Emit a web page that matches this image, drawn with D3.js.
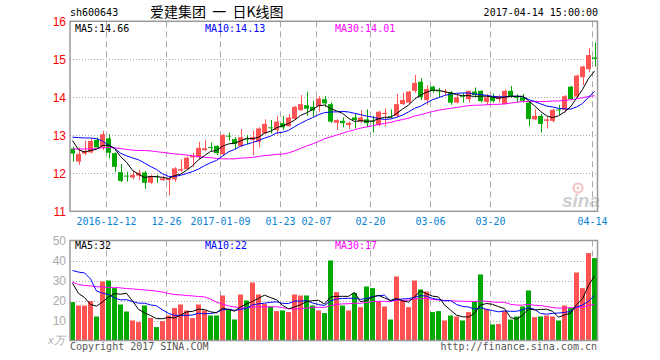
<!DOCTYPE html>
<html><head><meta charset="utf-8">
<script src="https://cdn.jsdelivr.net/npm/d3@7"></script>
<style>body{margin:0;background:#fff}svg{display:block}</style>
</head><body><svg id="c" width="660" height="360"></svg>
<script>
const dates = ["2016-12-02","2016-12-05","2016-12-06","2016-12-07","2016-12-08","2016-12-09","2016-12-12","2016-12-13","2016-12-14","2016-12-15","2016-12-16","2016-12-19","2016-12-20","2016-12-21","2016-12-22","2016-12-23","2016-12-26","2016-12-27","2016-12-28","2016-12-29","2016-12-30",
"2017-01-03","2017-01-04","2017-01-05","2017-01-06","2017-01-09","2017-01-10","2017-01-11","2017-01-12","2017-01-13","2017-01-16","2017-01-17","2017-01-18","2017-01-19","2017-01-20","2017-01-23","2017-01-24","2017-01-25","2017-01-26",
"2017-02-03","2017-02-06","2017-02-07","2017-02-08","2017-02-09","2017-02-10","2017-02-13","2017-02-14","2017-02-15","2017-02-16","2017-02-17","2017-02-20","2017-02-21","2017-02-22","2017-02-23","2017-02-24","2017-02-27","2017-02-28",
"2017-03-01","2017-03-02","2017-03-03","2017-03-06","2017-03-07","2017-03-08","2017-03-09","2017-03-10","2017-03-13","2017-03-14","2017-03-15","2017-03-16","2017-03-17","2017-03-20","2017-03-21","2017-03-22","2017-03-23","2017-03-24","2017-03-27","2017-03-28","2017-03-29","2017-03-30","2017-03-31",
"2017-04-05","2017-04-06","2017-04-07","2017-04-10","2017-04-11","2017-04-12","2017-04-13","2017-04-14"];
const opens = [12.65,12.31,12.52,12.55,12.88,12.68,12.92,12.53,12.03,11.94,11.89,11.94,12.02,11.75,11.92,11.82,11.82,11.84,12.07,12.11,12.42,12.42,12.61,12.69,12.72,12.50,12.99,12.90,12.72,12.91,12.88,12.83,13.05,13.21,13.14,13.32,13.24,13.43,13.66,13.79,13.75,13.77,13.95,13.82,13.33,13.38,13.27,13.47,13.36,13.42,13.38,13.27,13.56,13.50,13.51,13.82,13.86,14.17,14.41,13.93,14.28,14.18,14.15,14.14,13.86,14.04,13.95,14.15,14.17,13.88,14.02,13.95,13.82,14.17,14.01,14.00,13.86,13.42,13.51,13.38,13.38,13.68,13.67,14.28,14.02,14.53,14.74,15.05];
const highs = [12.70,12.68,12.86,12.92,12.95,13.12,13.03,12.55,12.24,12.04,12.07,12.10,12.06,11.96,11.96,11.93,11.87,12.16,12.37,12.44,12.54,12.83,12.88,12.81,12.74,13.03,13.07,12.95,13.16,13.01,13.12,13.21,13.42,13.40,13.51,13.51,13.56,13.77,14.06,14.15,13.91,14.03,14.03,13.86,13.42,13.47,13.36,13.56,13.66,13.68,13.51,13.65,13.71,13.68,14.09,14.12,14.17,14.59,14.50,14.32,14.30,14.25,14.22,14.17,14.06,14.11,14.17,14.26,14.18,14.09,14.10,14.06,14.21,14.30,14.08,14.09,13.90,13.68,13.56,13.49,13.70,13.80,14.06,14.30,14.60,14.83,15.29,15.44];
const lows = [12.31,12.22,12.48,12.53,12.66,12.61,12.39,12.04,11.77,11.78,11.84,11.82,11.59,11.72,11.75,11.80,11.42,11.78,12.04,12.09,12.17,12.38,12.59,12.59,12.48,12.47,12.86,12.63,12.68,12.77,12.48,12.68,13.03,13.05,13.03,13.14,13.23,13.40,13.65,13.51,13.49,13.62,13.75,13.33,13.14,13.21,13.16,13.18,13.33,13.21,13.07,13.24,13.24,13.45,13.47,13.80,13.82,14.12,13.93,13.80,14.12,14.00,14.06,13.80,13.84,13.86,13.86,13.99,13.86,13.80,13.86,13.86,13.82,13.99,13.86,13.86,13.24,13.40,13.07,13.18,13.34,13.54,13.60,13.93,14.00,14.32,14.66,14.81];
const closes = [12.52,12.51,12.59,12.85,12.68,13.03,12.54,12.17,11.80,11.92,11.96,12.02,11.75,11.93,11.90,11.87,11.87,12.13,12.11,12.41,12.46,12.67,12.66,12.68,12.53,13.01,12.98,12.77,12.95,12.90,12.95,13.18,13.30,13.20,13.36,13.21,13.47,13.75,13.82,13.70,13.65,13.97,13.84,13.36,13.40,13.32,13.33,13.40,13.47,13.32,13.36,13.62,13.59,13.48,13.82,13.93,14.15,14.38,14.00,14.22,14.17,14.16,14.17,13.86,14.00,14.02,14.17,14.06,13.90,14.00,13.90,14.03,14.17,14.03,14.00,13.91,13.43,13.51,13.30,13.42,13.67,13.66,14.03,13.95,14.57,14.81,15.11,15.01];
const volumes = [19.2,17.5,17.5,19.7,12,29.5,30,26.2,18,14.5,10,9.2,17.5,11.3,6.7,9.7,12.5,16.2,18,15,11.2,18,15,12.5,12.5,22.5,15.3,10.5,23,20,29,23,18.3,17,14.7,15,14.2,23,22.5,22.5,17.5,15,13.7,40,24.2,17.5,15,23.7,16.7,27,26.2,19.5,17,10.5,32,20,16.7,30,25.5,24.5,14.2,14.7,10,12.5,12,10,14.2,19.5,33,15.8,8,8.3,14.7,10.5,12,17,25,11.7,12,12.5,12,10,17.5,16.2,34,26.2,43.7,41.2];
const ma5Head = [12.86,12.62,12.56,12.60];
const ma10Head = [12.95,12.94,12.93,12.93,12.91,12.85,12.74,12.66,12.53];
const ma30Head = [12.64,12.64,12.64,12.64,12.65,12.67,12.68,12.67,12.65,12.63,12.61,12.60,12.60,12.59,12.57,12.55,12.53,12.51,12.50,12.48,12.46,12.44,12.42,12.41,12.39,12.38,12.38,12.38,12.40];
const vma5Head = [28.7,23.5,21.5,18];
const vma10Head = [35,34.2,33.8,30.8,24.7,23.7,23,21.3,20.3];
const vma30Head = [29.2,28,27.5,27.3,26.9,26.8,26.5,26.6,26.3,26,25.8,25.5,25.3,25,24.7,24.2,23.5,23,22.8,22.5,22.3,22,21.8,20.7,19.2,18.2,17.3,16.8,16.3];
const labelDates = ["2016-12-12","2016-12-26","2017-01-09","2017-01-23","2017-02-07","2017-02-20","2017-03-06","2017-03-20","2017-04-14"];
const labelTexts = ["2016-12-12","12-26","2017-01-09","01-23","02-07","02-20","03-06","03-20","04-14"];
const priceTicks = [11,12,13,14,15,16];
const volTicks = [10,20,30,40,50];
const priceLegend = [["MA5",14.66],["MA10",14.13],["MA30",14.01]];
const volLegend = [["MA5",32],["MA10",22],["MA30",17]];

function movingAvg(vals, n, head) {
  return vals.map((v, i) => i < n - 1 ? head[i] : d3.mean(vals.slice(i - n + 1, i + 1)));
}

const svg = d3.select("#c");
const L = 70, R = 597.5;
const pTop = 21.3, pBot = 211.3, vTop = 240.5, vBot = 340.5;
const x = d3.scaleBand().domain(dates).range([69.5, 597.5]).paddingInner(1/6).paddingOuter(1/12);
const bw = x.bandwidth();
const cx = d => x(d) + bw / 2;
const y = d3.scaleLinear().domain([11, 16]).range([pBot, pTop]);
const yv = d3.scaleLinear().domain([0, 50]).range([vBot, vTop]);
const RED = "#ff5252", GREEN = "#00a800", GRID = "#aaaaaa";
const MONO = "'DejaVu Sans Mono', monospace";

// title row
svg.append("text").attr("x", 70).attr("y", 16).attr("font-family", MONO).attr("font-size", 10).attr("fill", "#000").text("sh600643");
svg.append("text").attr("x", 150).attr("y", 17).attr("font-family", "'Noto Sans CJK SC', sans-serif").attr("font-size", 14)
  .attr("fill", "#000").style("white-space", "pre").text("爱建集团  一  日K线图");
svg.append("text").attr("x", 598).attr("y", 16).attr("text-anchor", "end").attr("font-family", MONO).attr("font-size", 10).attr("fill", "#000").text("2017-04-14 15:00:00");

// grids
const g = svg.append("g");
[12,13,14,15].forEach(t => g.append("line").attr("x1", L).attr("x2", R).attr("y1", Math.round(y(t)) + 0.5).attr("y2", Math.round(y(t)) + 0.5)
  .attr("stroke", GRID).attr("stroke-dasharray", "1,2"));
[10,20,30,40].forEach(t => g.append("line").attr("x1", L).attr("x2", R).attr("y1", Math.round(yv(t)) + 0.5).attr("y2", Math.round(yv(t)) + 0.5)
  .attr("stroke", GRID).attr("stroke-dasharray", "1,2"));
labelDates.forEach(d => {
  const xx = Math.round(x(d)) + 0.5;
  g.append("line").attr("x1", xx).attr("x2", xx).attr("y1", pTop).attr("y2", pBot).attr("stroke", GRID).attr("stroke-dasharray", "6,4");
  g.append("line").attr("x1", xx).attr("x2", xx).attr("y1", vTop).attr("y2", vBot).attr("stroke", GRID).attr("stroke-dasharray", "6,4");
});

// watermark
const wm = svg.append("g").attr("opacity", 0.6);
wm.append("circle").attr("cx", 578).attr("cy", 188).attr("r", 4.5).attr("fill", "none").attr("stroke", "#f29b9b").attr("stroke-width", 2);
wm.append("circle").attr("cx", 578).attr("cy", 188).attr("r", 1.5).attr("fill", "#f29b9b");
wm.append("text").attr("x", 562).attr("y", 207).attr("font-family", "'Liberation Sans', sans-serif").attr("font-style", "italic").attr("font-weight", "bold")
  .attr("font-size", 19).attr("fill", "#b0b0b0").text("sina");

// candles
const idx = d3.range(dates.length);
const cg = svg.append("g");
idx.forEach(i => {
  const up = closes[i] >= opens[i];
  const col = up ? RED : GREEN;
  const xc = Math.round(cx(dates[i])) + 0.5;
  cg.append("line").attr("x1", xc).attr("x2", xc).attr("y1", y(highs[i])).attr("y2", y(lows[i])).attr("stroke", col);
  const top = y(Math.max(opens[i], closes[i])), bot = y(Math.min(opens[i], closes[i]));
  cg.append("rect").attr("x", x(dates[i])).attr("width", bw).attr("y", top).attr("height", Math.max(1, bot - top)).attr("fill", col);
});

// price MAs
const line = d3.line().x((d, i) => cx(dates[i])).y(d => y(d));
[[movingAvg(closes, 30, ma30Head), "#ff00ff"], [movingAvg(closes, 10, ma10Head), "#0000ff"], [movingAvg(closes, 5, ma5Head), "#000"]]
  .forEach(([arr, col]) => svg.append("path").attr("d", line(arr)).attr("fill", "none").attr("stroke", col).attr("stroke-width", 1));

// volume bars
const vg = svg.append("g");
idx.forEach(i => {
  const col = closes[i] >= opens[i] ? RED : GREEN;
  vg.append("rect").attr("x", x(dates[i])).attr("width", bw).attr("y", yv(volumes[i])).attr("height", vBot - yv(volumes[i])).attr("fill", col);
});
const vline = d3.line().x((d, i) => cx(dates[i])).y(d => yv(d));
[[movingAvg(volumes, 30, vma30Head), "#ff00ff"], [movingAvg(volumes, 10, vma10Head), "#0000ff"], [movingAvg(volumes, 5, vma5Head), "#000"]]
  .forEach(([arr, col]) => svg.append("path").attr("d", vline(arr)).attr("fill", "none").attr("stroke", col).attr("stroke-width", 1));

// frames
[[pTop, pBot], [vTop, vBot]].forEach(([t, b]) => {
  svg.append("rect").attr("x", 70).attr("y", t).attr("width", R - 70).attr("height", b - t).attr("fill", "none").attr("stroke", "#999").attr("stroke-width", 1.5);
});

// axes (labels only)
const ya = svg.append("g").attr("transform", "translate(68,0)")
  .call(d3.axisLeft(y).tickValues(priceTicks).tickSize(0).tickPadding(2).tickFormat(d3.format("d")));
ya.select(".domain").remove();
ya.selectAll("text").attr("fill", "#f00").attr("font-size", 12).attr("font-family", "'Liberation Sans', Arial, sans-serif");
const va = svg.append("g").attr("transform", "translate(68,0)")
  .call(d3.axisLeft(yv).tickValues(volTicks).tickSize(0).tickPadding(2).tickFormat(d3.format("d")));
va.select(".domain").remove();
va.selectAll("text").attr("fill", "#aaa").attr("font-size", 12).attr("font-family", "'Liberation Sans', Arial, sans-serif");
svg.append("text").attr("x", 48).attr("y", 344).attr("font-family", "'Liberation Sans', sans-serif").attr("font-style", "italic")
  .attr("font-size", 11).attr("fill", "#aaa").text("x万");

labelDates.forEach((d, k) => {
  svg.append("text").attr("x", Math.round(x(d)) + 0.5).attr("y", 225).attr("text-anchor", "middle").attr("font-family", MONO)
    .attr("font-size", 10).attr("fill", "#0a84d6").text(labelTexts[k]);
});

// legends
const legCols = ["#000", "#0000ff", "#ff00ff"], legX = [75, 205, 335];
priceLegend.forEach(([n, v], k) => svg.append("text").attr("x", legX[k]).attr("y", 32).attr("font-family", MONO).attr("font-size", 10)
  .attr("fill", legCols[k]).text(n + ":" + v.toFixed(2)));
volLegend.forEach(([n, v], k) => svg.append("text").attr("x", legX[k]).attr("y", 249).attr("font-family", MONO).attr("font-size", 10)
  .attr("fill", legCols[k]).text(n + ":" + v));

// footer
svg.append("text").attr("x", 70).attr("y", 350).attr("font-family", MONO).attr("font-size", 10).attr("fill", "#555").text("Copyright 2017 SINA.COM");
svg.append("text").attr("x", 597).attr("y", 350).attr("text-anchor", "end").attr("font-family", MONO).attr("font-size", 10).attr("fill", "#555").text("http://finance.sina.com.cn");
</script></body></html>
